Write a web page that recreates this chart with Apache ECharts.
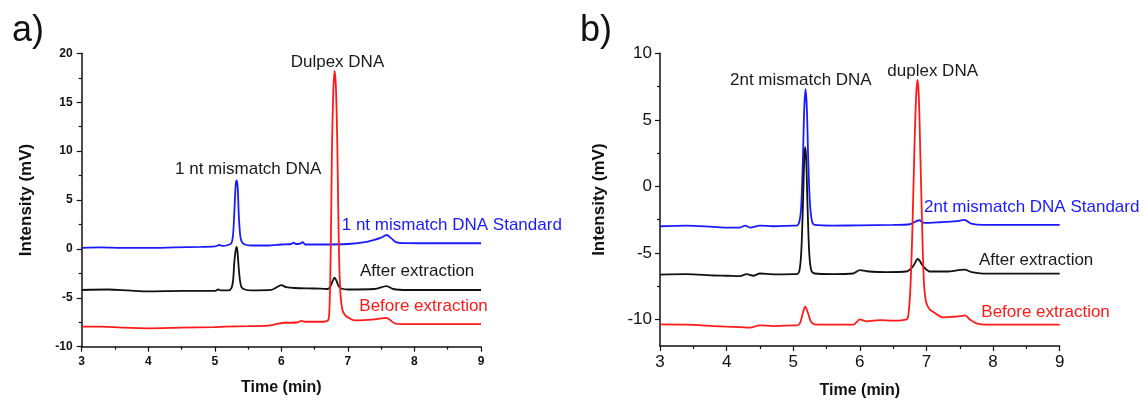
<!DOCTYPE html>
<html>
<head>
<meta charset="utf-8">
<script src="https://cdn.jsdelivr.net/npm/echarts@6/dist/echarts.min.js"></script>
<style>
html,body{margin:0;padding:0;background:#fff;}
#chart{width:1143px;height:404px;}
</style>
</head>
<body>
<div id="chart"></div>
<script>
// ---------- Data (time in min, intensity in mV) ----------
// Panel a
const aStandard = [[3,0.1],[3.3,0.15],[3.6,0.1],[4.0,0.1],[4.4,0.15],[4.8,0.2],[5.0,0.25],[5.07,0.4],[5.12,0.3],[5.2,0.4],[5.25,0.6],[5.275,1.5],[5.295,4.0],[5.315,6.6],[5.33,7.0],[5.345,6.2],[5.36,3.5],[5.38,1.5],[5.40,0.8],[5.45,0.45],[5.55,0.35],[5.8,0.35],[6.0,0.45],[6.15,0.5],[6.18,0.65],[6.22,0.5],[6.28,0.55],[6.32,0.68],[6.36,0.45],[6.6,0.45],[7.0,0.5],[7.3,0.75],[7.5,1.15],[7.58,1.42],[7.65,1.1],[7.72,0.7],[7.85,0.6],[8.5,0.58],[9.0,0.58]];
const aAfter = [[3,-4.2],[3.4,-4.15],[3.7,-4.25],[4.0,-4.35],[4.5,-4.3],[5.0,-4.3],[5.05,-4.15],[5.1,-4.25],[5.2,-4.25],[5.25,-4.0],[5.275,-3.2],[5.295,-1.2],[5.315,-0.1],[5.33,0.2],[5.345,-0.6],[5.36,-2.0],[5.38,-3.3],[5.40,-3.9],[5.45,-4.15],[5.55,-4.25],[5.85,-4.2],[5.95,-3.85],[6.0,-3.7],[6.07,-3.9],[6.2,-4.0],[6.5,-4.05],[6.7,-4.1],[6.74,-3.8],[6.77,-3.3],[6.80,-2.95],[6.83,-3.3],[6.86,-3.8],[6.9,-4.05],[7.0,-4.15],[7.4,-4.1],[7.58,-3.8],[7.68,-4.1],[7.9,-4.2],[9.0,-4.2]];
const aBefore = [[3,-7.95],[3.3,-7.95],[3.6,-8.05],[4.0,-8.12],[4.5,-8.05],[5.0,-8.0],[5.15,-7.95],[5.5,-7.9],[5.8,-7.85],[5.95,-7.65],[6.05,-7.55],[6.15,-7.55],[6.25,-7.5],[6.3,-7.35],[6.35,-7.45],[6.6,-7.45],[6.70,-7.3],[6.72,-6.5],[6.735,-3.0],[6.75,4.0],[6.76,10.0],[6.78,16.0],[6.80,18.2],[6.82,16.5],[6.84,11.0],[6.855,4.0],[6.87,-1.5],[6.89,-4.8],[6.92,-6.3],[6.96,-6.8],[7.0,-7.0],[7.1,-7.3],[7.4,-7.2],[7.58,-7.05],[7.7,-7.6],[7.85,-7.7],[9.0,-7.7]];
// Panel b
const bStandard = [[3,-3.0],[3.4,-2.95],[3.8,-3.05],[4.0,-3.1],[4.2,-3.1],[4.28,-2.95],[4.35,-3.1],[4.5,-2.95],[4.7,-3.0],[5.0,-2.95],[5.05,-2.95],[5.09,-2.7],[5.12,-1.5],[5.145,2.0],[5.165,5.8],[5.185,7.3],[5.205,5.8],[5.225,2.0],[5.25,-1.2],[5.28,-2.6],[5.32,-2.9],[5.6,-2.95],[6.0,-2.93],[6.5,-2.9],[6.75,-2.85],[6.89,-2.55],[6.97,-2.75],[7.2,-2.7],[7.45,-2.62],[7.57,-2.52],[7.67,-2.8],[7.85,-2.9],[9.0,-2.9]];
const bAfter = [[3,-6.63],[3.4,-6.6],[3.8,-6.7],[4.0,-6.72],[4.2,-6.75],[4.3,-6.6],[4.4,-6.72],[4.5,-6.55],[4.7,-6.62],[5.0,-6.6],[5.05,-6.6],[5.09,-6.4],[5.12,-5.0],[5.145,-1.5],[5.165,2.0],[5.18,2.95],[5.195,2.0],[5.215,-1.5],[5.24,-5.0],[5.27,-6.3],[5.32,-6.55],[5.6,-6.6],[5.9,-6.55],[6.0,-6.3],[6.1,-6.38],[6.4,-6.45],[6.7,-6.4],[6.8,-6.0],[6.87,-5.46],[6.95,-6.0],[7.05,-6.4],[7.3,-6.4],[7.57,-6.26],[7.68,-6.45],[7.85,-6.56],[9.0,-6.56]];
const bBefore = [[3,-10.38],[3.4,-10.4],[3.8,-10.5],[4.0,-10.55],[4.2,-10.58],[4.35,-10.62],[4.5,-10.45],[4.7,-10.5],[5.0,-10.45],[5.05,-10.45],[5.10,-10.3],[5.14,-9.6],[5.18,-9.05],[5.22,-9.5],[5.27,-10.2],[5.35,-10.4],[5.9,-10.4],[6.0,-10.0],[6.1,-10.15],[6.3,-10.05],[6.5,-10.1],[6.70,-10.0],[6.73,-9.6],[6.76,-7.5],[6.79,-3.0],[6.82,3.0],[6.845,6.8],[6.865,8.0],[6.885,6.8],[6.91,2.0],[6.935,-3.0],[6.96,-7.0],[6.99,-8.6],[7.04,-9.2],[7.12,-9.5],[7.25,-9.85],[7.4,-9.8],[7.5,-9.75],[7.58,-9.7],[7.65,-10.0],[7.75,-10.3],[7.9,-10.4],[9.0,-10.4]];

// Tick labels
const xTicks = [3,4,5,6,7,8,9];
const aYTicks = [-10,-5,0,5,10,15,20];
const bYTicks = [-10,-5,0,5,10];
const bYMinor = [-7.5,-2.5,2.5,7.5];

// Text
const aTitle = 'a)', bTitle = 'b)';
const xName = 'Time (min)', yName = 'Intensity (mV)';
const aNotes = ['Dulpex DNA','1 nt mismatch DNA','1 nt mismatch DNA Standard','After extraction','Before extraction'];
const bNotes = ['duplex DNA','2nt mismatch DNA','2nt mismatch DNA Standard','After extraction','Before extraction'];

const BLUE = '#1a1aff', BLACK = '#111111', RED = '#ff1a1a';
const FONT = '"Liberation Sans", Arial, sans-serif';

const chart = echarts.init(document.getElementById('chart'), null, {renderer:'canvas'});

function xAxisCfg(grid, bold, size, gap){
  return {
    type:'value', gridIndex:grid, min:3, max:9, interval:1,
    name:xName, nameLocation:'middle', nameGap:gap,
    nameTextStyle:{fontFamily:FONT, fontWeight:'bold', fontSize:16, color:'#111'},
    axisLine:{show:true, onZero:false, lineStyle:{color:'#111', width:1.5}},
    axisTick:{show:true, length:5, lineStyle:{color:'#111', width:1.2}},
    minorTick:{show:true, splitNumber:2, length:3, lineStyle:{color:'#111', width:1.2}},
    axisLabel:{fontFamily:FONT, fontWeight:bold?'bold':'normal', fontSize:size, color:'#111', margin:bold?9:8},
    splitLine:{show:false}, minorSplitLine:{show:false}
  };
}

const series = [];
function addLine(data, color, xi, yi, name){
  series.push({type:'line', name:name, xAxisIndex:xi, yAxisIndex:yi, data:data, showSymbol:false, symbol:'none',
    smooth:0.3, lineStyle:{color:color, width:1.8}, itemStyle:{color:color}, animation:false, z:3});
}
addLine(aStandard, BLUE, 0, 0, 'a Standard');
addLine(aAfter, BLACK, 0, 0, 'a After extraction');
addLine(aBefore, RED, 0, 0, 'a Before extraction');
addLine(bStandard, BLUE, 1, 1, 'b Standard');
addLine(bAfter, BLACK, 1, 1, 'b After extraction');
addLine(bBefore, RED, 1, 1, 'b Before extraction');

function txt(x, y, text, size, color, opts){
  opts = opts || {};
  return {type:'text', x:x, y:y, z:10, silent:true,
    style:{text:text, fill:color, font:(opts.bold?'bold ':'')+size+'px '+FONT,
      textAlign:opts.align||'left', textVerticalAlign:'middle', verticalAlign:'middle'}};
}

const option = {
  animation:false,
  backgroundColor:'#ffffff',
  grid:[
    {left:81.7, right:662, top:53.3, bottom:57.3},
    {left:660, right:83.3, top:53.3, bottom:57.3}
  ],
  xAxis:[ xAxisCfg(0, true, 12, 33), xAxisCfg(1, false, 17, 37) ],
  yAxis:[
    {type:'value', gridIndex:0, min:-10, max:20, interval:5, position:'left',
      name:yName, nameLocation:'middle', nameGap:47, nameRotate:90,
      nameTextStyle:{fontFamily:FONT, fontWeight:'bold', fontSize:17, color:'#111'},
      axisLine:{show:true, onZero:false, lineStyle:{color:'#111', width:1.5}},
      axisTick:{show:true, length:5, lineStyle:{color:'#111', width:1.2}},
      minorTick:{show:true, splitNumber:2, length:3, lineStyle:{color:'#111', width:1.2}},
      axisLabel:{fontFamily:FONT, fontWeight:'bold', fontSize:12, color:'#111', margin:9},
      splitLine:{show:false}},
    {type:'value', gridIndex:1, min:-12, max:10, position:'left',
      name:yName, nameLocation:'middle', nameGap:52, nameRotate:90,
      nameTextStyle:{fontFamily:FONT, fontWeight:'bold', fontSize:17, color:'#111'},
      axisLine:{show:true, onZero:false, lineStyle:{color:'#111', width:1.5}},
      axisTick:{show:true, length:5, customValues:bYTicks, lineStyle:{color:'#111', width:1.2}},
      axisLabel:{fontFamily:FONT, fontSize:17, color:'#111', margin:8, customValues:bYTicks},
      splitLine:{show:false}},
    {type:'value', gridIndex:1, min:-12, max:10, position:'left',
      axisLine:{show:false},
      axisTick:{show:true, length:3, customValues:bYMinor, lineStyle:{color:'#111', width:1.2}},
      axisLabel:{show:false},
      splitLine:{show:false}}
  ],
  series:series,
  graphic:[
    txt(12, 31, aTitle, 36, '#111'),
    txt(580, 31, bTitle, 36, '#111'),
    // panel a annotations
    txt(290.7, 62, aNotes[0], 17, '#1a1a1a'),
    txt(175, 169, aNotes[1], 17, '#1a1a1a'),
    txt(341.7, 225, aNotes[2], 17, BLUE),
    txt(360, 271, aNotes[3], 17, '#1a1a1a'),
    txt(359.3, 306, aNotes[4], 17, RED),
    // panel b annotations
    txt(887.3, 71, bNotes[0], 17, '#1a1a1a'),
    txt(730, 80, bNotes[1], 17, '#1a1a1a'),
    txt(924, 207.5, bNotes[2], 17, BLUE),
    txt(979, 260, bNotes[3], 17, '#1a1a1a'),
    txt(981.3, 312, bNotes[4], 17, RED)
  ]
};
chart.setOption(option);
</script>
</body>
</html>
